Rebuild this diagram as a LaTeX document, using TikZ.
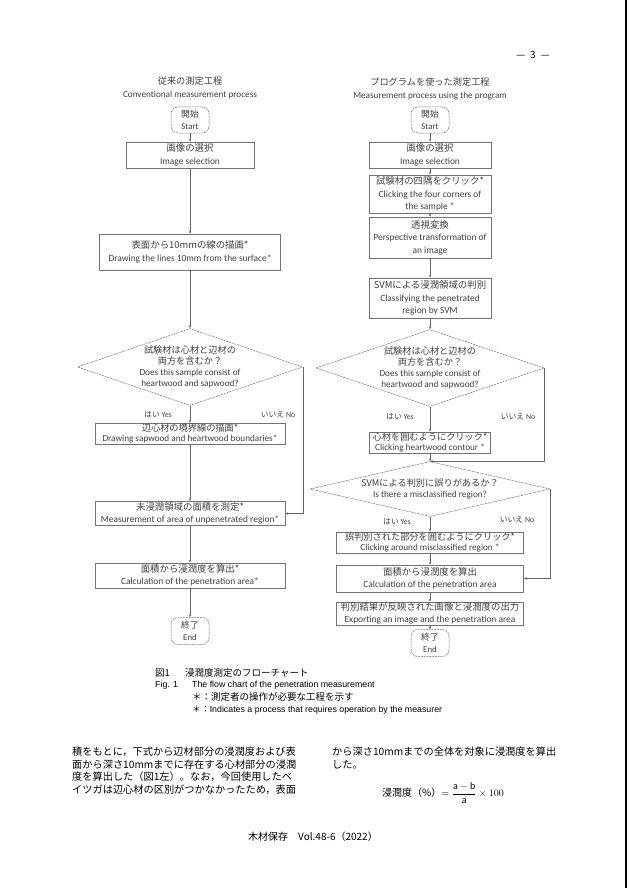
\documentclass[tikz,border=0pt]{standalone}
\usepackage{fontspec}
\setmainfont{Carlito}
\newfontfamily\jp{Noto Sans CJK JP}
\newfontfamily\capfont{Liberation Sans}
\usetikzlibrary{shapes.geometric,arrows.meta}

\tikzset{
  box/.style={draw=black!55, line width=.5pt, fill=white, align=center,
    inner sep=0pt, text=black!75, font=\fontsize{9.4}{12.5}\selectfont},
  tightbox/.style={box, font=\fontsize{9.2}{10.8}\selectfont},
  terminal/.style={draw=black!55, line width=.5pt, dash pattern=on 2pt off .8pt,
    rounded corners=7pt, minimum width=38pt, minimum height=26pt, align=center,
    inner sep=0pt, text=black!75, font=\fontsize{8.8}{11.5}\selectfont},
  decision/.style={draw=black!55, line width=.5pt, dash pattern=on 2pt off .8pt,
    diamond, inner sep=0pt},
  qtext/.style={align=center, inner sep=0pt, text=black!75,
    font=\fontsize{9.2}{11}\selectfont},
  flow/.style={draw=black!60, line width=.5pt, -{Stealth[length=3pt,width=2.4pt]}},
  answer/.style={inner sep=0pt, text=black!75, font=\fontsize{7.8}{9}\selectfont},
  heading/.style={align=center, inner sep=0pt, text=black!75,
    font=\fontsize{9.2}{12.5}\selectfont},
  captext/.style={anchor=west, inner sep=0pt, font=\capfont\fontsize{8.8}{11}\selectfont},
  capjp/.style={anchor=west, inner sep=0pt, font=\jp\fontsize{9.5}{11}\selectfont},
  bodytext/.style={anchor=west, inner sep=0pt, font=\jp\fontsize{10.2}{12.5}\selectfont},
}

\begin{document}
\begin{tikzpicture}[x=1pt, y=-1pt]
  \fill[white] (0,0) rectangle (629,888);
  \useasboundingbox (0,0) rectangle (629,888);

  \node[inner sep=0pt, font=\jp\fontsize{10}{12}\selectfont] (pagenum) at (533,55) {—\enspace3\enspace—};
  \draw[line width=1.5pt] (626,0) -- (626,888);

  \begin{scope}
    \node[heading] (headL) at (190,88) {{\jp 従来の測定工程}\\Conventional measurement process};
    \node[terminal] (startL) at (190,120) {{\jp 開始}\\Start};
    \node[box, minimum width=128pt, minimum height=26pt] (selL) at (190,155)
      {{\jp 画像の選択}\\Image selection};
    \node[box, minimum width=181pt, minimum height=36pt] (surfL) at (190,252)
      {{\jp 表面から10mmの線の描画*}\\Drawing the lines 10mm from the surface*};
    \node[decision, minimum width=225pt, minimum height=77pt] (qL) at (190,367) {};
    \node[qtext] (qtextL) at (qL) {{\jp 試験材は心材と辺材の}\\{\jp 両方を含むか？}\\Does this sample consist of\\heartwood and sapwood?};
    \node[answer] (yesL) at (158,415) {{\jp はい} Yes};
    \node[answer] (noL) at (278,415) {{\jp いいえ} No};
    \node[tightbox, minimum width=190pt, minimum height=21pt] (bndL) at (190,433.5)
      {{\jp 辺心材の境界線の描画*}\\Drawing sapwood and heartwood boundaries*};
    \node[box, minimum width=190pt, minimum height=24pt] (measL) at (190,513.5)
      {{\jp 未浸潤領域の面積を測定*}\\Measurement of area of unpenetrated region*};
    \node[box, minimum width=190pt, minimum height=25pt] (calcL) at (190,575.5)
      {{\jp 面積から浸潤度を算出*}\\Calculation of the penetration area*};
    \node[terminal, minimum height=27pt] (endL) at (190,631) {{\jp 終了}\\End};

    \draw[flow] (startL) -- (selL);
    \draw[flow] (selL) -- (surfL);
    \draw[flow] (surfL) -- (qL);
    \draw[flow] (qL) -- (bndL);
    \draw[flow] (bndL) -- (measL);
    \draw[flow] (measL) -- (calcL);
    \draw[flow] (calcL) -- (endL);
    \draw[flow] (qL.east) |- (measL.east);
  \end{scope}

  \begin{scope}
    \node[heading] (headR) at (430,89) {{\jp プログラムを使った測定工程}\\Measurement process using the program};
    \node[terminal] (startR) at (430,120) {{\jp 開始}\\Start};
    \node[box, minimum width=122pt, minimum height=26pt] (selR) at (430,155)
      {{\jp 画像の選択}\\Image selection};
    \node[box, minimum width=122pt, minimum height=38pt] (cornR) at (430,194)
      {{\jp 試験材の四隅をクリック*}\\Clicking the four corners of\\the sample *};
    \node[box, minimum width=122pt, minimum height=41pt] (perspR) at (430,237.5)
      {{\jp 透視変換}\\Perspective transformation of\\an image};
    \node[box, minimum width=122pt, minimum height=40pt] (svmR) at (430,298)
      {{\jp SVMによる浸潤領域の判別}\\Classifying the penetrated\\region by SVM};
    \node[decision, minimum width=228pt, minimum height=77pt] (qR) at (430,368) {};
    \node[qtext] (qtextR) at (qR) {{\jp 試験材は心材と辺材の}\\{\jp 両方を含むか？}\\Does this sample consist of\\heartwood and sapwood?};
    \node[answer] (yesR) at (400,417) {{\jp はい} Yes};
    \node[answer] (noR) at (518,417) {{\jp いいえ} No};
    \node[tightbox, minimum width=121pt, minimum height=21pt] (heartR) at (430,442.5)
      {{\jp 心材を囲むようにクリック*}\\Clicking heartwood contour *};
    \node[decision, minimum width=240pt, minimum height=55pt] (qR2) at (430,489) {};
    \node[qtext] (qtextR2) at (qR2) {{\jp SVMによる判別に誤りがあるか？}\\Is there a misclassified region?};
    \node[answer] (yesR2) at (397,522) {{\jp はい} Yes};
    \node[answer] (noR2) at (517,520) {{\jp いいえ} No};
    \node[tightbox, minimum width=187pt, minimum height=21pt] (clickR) at (430,542.5)
      {{\jp 誤判別された部分を囲むようにクリック*}\\Clicking around misclassified region *};
    \node[box, minimum width=187pt, minimum height=27pt] (calcR) at (430,578.5)
      {{\jp 面積から浸潤度を算出}\\Calculation of the penetration area};
    \node[box, minimum width=187pt, minimum height=23pt] (outR) at (430,613.5)
      {{\jp 判別結果が反映された画像と浸潤度の出力}\\Exporting an image and the penetration area};
    \node[terminal, minimum height=27pt] (endR) at (430,643) {{\jp 終了}\\End};

    \draw[flow] (startR) -- (selR);
    \draw[flow] (selR) -- (cornR);
    \draw[flow] (cornR) -- (perspR);
    \draw[flow] (perspR) -- (svmR);
    \draw[flow] (svmR) -- (qR);
    \draw[flow] (qR) -- (heartR);
    \draw[flow] (heartR) -- (qR2);
    \draw[flow] (qR.east) |- (qR2.north);
    \draw[flow] (qR2) -- (clickR);
    \draw[flow] (clickR) -- (calcR);
    \draw[flow] (calcR) -- (outR);
    \draw[flow] (outR) -- (endR);
    \draw[flow] (qR2.east) |- (calcR.east);
  \end{scope}

  \node[capjp] (capnum) at (155,673) {図1};
  \node[capjp] (captitle) at (185,673) {浸潤度測定のフローチャート};
  \node[captext] (figno) at (155,685) {Fig. 1};
  \node[captext] (figtitle) at (192,685) {The flow chart of the penetration measurement};
  \node[capjp] (notejp) at (192,697) {＊：測定者の操作が必要な工程を示す};
  \node[captext] (noteen) at (192,710) {{\jp ＊：}Indicates a process that requires operation by the measurer};

  \node[bodytext] (bodyA) at (72,752) {積をもとに，下式から辺材部分の浸潤度および表};
  \node[bodytext] (bodyB) at (72,765) {面から深さ10mmまでに存在する心材部分の浸潤};
  \node[bodytext] (bodyC) at (72,777) {度を算出した（図1左）。なお，今回使用したベ};
  \node[bodytext] (bodyD) at (72,790) {イツガは辺心材の区別がつかなかったため，表面};
  \node[bodytext] (bodyE) at (332,752) {から深さ10mmまでの全体を対象に浸潤度を算出};
  \node[bodytext] (bodyF) at (332,765) {した。};
  \node[inner sep=0pt, font=\fontsize{10}{12}\selectfont] (formula) at (443,793)
    {{\jp 浸潤度（\%）}$=\displaystyle\frac{\mathrm{a}-\mathrm{b}}{\mathrm{a}}\times 100$};

  \node[inner sep=0pt, font=\jp\fontsize{10}{12}\selectfont] (footer) at (313,837) {木材保存　Vol.48-6（2022）};
\end{tikzpicture}
\end{document}
